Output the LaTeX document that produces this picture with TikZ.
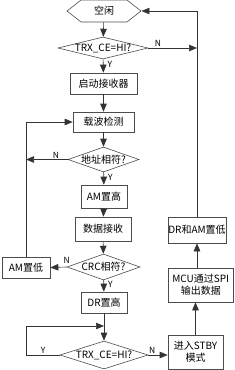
\documentclass[tikz,border=0pt]{standalone}
\usepackage{fontspec}
\setmainfont{Noto Sans CJK SC}
\usetikzlibrary{shapes.geometric,shapes.symbols,arrows.meta}

\begin{document}
\begin{tikzpicture}[x=1pt,y=-1pt,
  font=\fontsize{10}{12}\selectfont,
  box/.style={draw=black!70, line width=0.6pt, rectangle, inner sep=0pt, align=center},
  dec/.style={draw=black!70, line width=0.6pt, diamond, inner xsep=0pt, inner ysep=-1pt},
  arr/.style={draw=black!80, line width=0.6pt, -{Triangle[length=8pt,width=6.5pt]}},
  yn/.style={font=\fontsize{8.5}{9}\selectfont, inner sep=1pt}]

\useasboundingbox (0,0) rectangle (234,370);

% Colonna centrale
\node[draw=black!70, line width=0.6pt, signal, signal to=west and east,
  signal pointer angle=76, minimum width=74, minimum height=22, inner sep=0pt]
  (idle) at (104,11) {空闲};
\node[dec, aspect=4.5, minimum width=90, minimum height=22] (chk1) at (103,48) {TRX\_CE=HI?};
\node[box, minimum width=67, minimum height=21] (rx) at (103.5,83.5) {启动接收器};
\node[box, minimum width=61, minimum height=20] (cd) at (103.5,122) {载波检测};
\node[dec, aspect=3, minimum width=71, minimum height=25] (addr) at (103.5,159.5) {地址相符?};
\node[box, minimum width=46, minimum height=23] (amh) at (104,196.5) {AM置高};
\node[box, minimum width=56, minimum height=24] (data) at (103,229) {数据接收};
\node[dec, aspect=3, minimum width=73, minimum height=26] (crc) at (103.5,267) {CRC相符?};
\node[box, minimum width=46, minimum height=21] (drh) at (104,302.5) {DR置高};
\node[dec, aspect=3.2, minimum width=88, minimum height=28] (chk2) at (104,355) {TRX\_CE=HI?};

% Colonna sinistra
\node[box, minimum width=48, minimum height=21] (aml) at (26,267.5) {AM置低};

% Colonna destra
\node[box, minimum width=58, minimum height=26] (drl) at (197,230) {DR和AM置低};
\node[box, minimum width=65.5, minimum height=34] (mcu) at (200.75,285) {MCU通过SPI\\输出数据};
\node[box, minimum width=55, minimum height=34] (stby) at (195.5,352) {进入STBY\\模式};

\coordinate (j2) at (104,326);

% Flusso principale
\draw[arr] (idle) -- (chk1);
\draw[arr] (chk1) -- node[yn, right, pos=0.4, xshift=3pt] {Y} (rx);
\draw[arr] (rx) -- (cd);
\draw[arr] (cd) -- (addr);
\draw[arr] (addr) -- node[yn, right, pos=0.4, xshift=3pt] {Y} (amh);
\draw[arr] (amh) -- (data);
\draw[arr] (data) -- (crc);
\draw[arr] (crc) -- node[yn, right, pos=0.35, xshift=3pt] {Y} (drh);
\draw[arr] (drh) -- (chk2);

% Rami N
\draw[arr] (chk1.east) -- node[yn, above, pos=0.2] {N} (chk1.east -| drl.north);
\draw[arr] (addr.west) -- node[yn, above, pos=0.28] {N} (addr.west -| aml.north);
\draw[arr] (crc.west) -- node[yn, above, pos=0, yshift=2pt] {N} (aml.east);
\draw[arr] (chk2.east) -- node[yn, above, pos=0.2] {N} (chk2.east -| stby.west);

% Ritorni
\draw[arr] (aml.north) |- (cd.west);
\draw[arr] (chk2.west) -- node[yn, above, pos=0.5] {Y} ++(-33,0) |- (j2);
\draw[arr] (stby.north) -- (stby.north |- mcu.south);
\draw[arr] (mcu.north -| drl.south) -- (drl.south);
\draw[arr] (drl.north) |- (idle.east);

\end{tikzpicture}
\end{document}
